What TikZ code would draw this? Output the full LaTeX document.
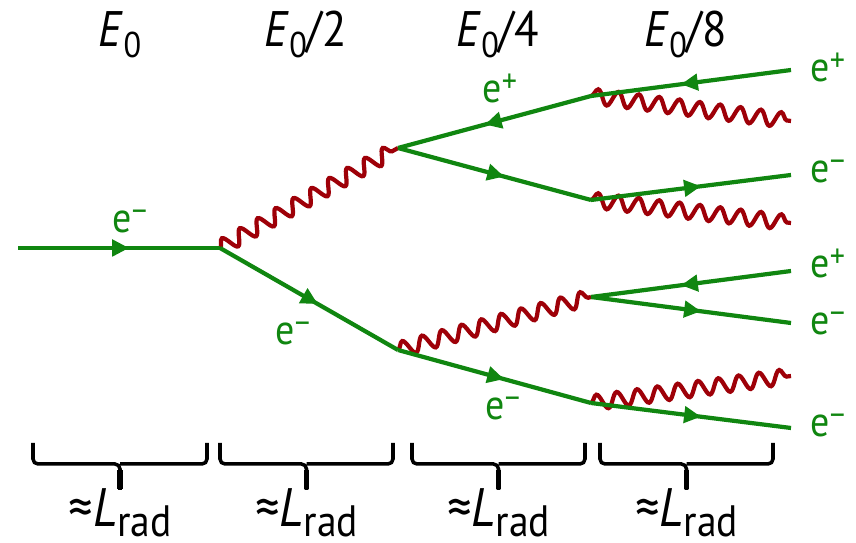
\documentclass[tikz,border=0pt]{standalone}
\usepackage{fontspec}
\setmainfont{PT Sans}[FakeStretch=0.9]
\usetikzlibrary{arrows.meta,decorations.markings,decorations.pathmorphing}

\definecolor{leptongreen}{RGB}{16,134,16}
\definecolor{photonred}{RGB}{158,0,8}

\newcommand{\Ezero}{\textit{E}\raisebox{-3.1pt}{\fontsize{10.2}{11}\selectfont 0}}
\newcommand{\Lradlabel}{≈\textit{L}\raisebox{-2.6pt}{\fontsize{12.5}{13}\selectfont rad}}
\newcommand{\charge}[1]{\raisebox{3pt}{\fontsize{9.5}{10}\selectfont #1}}

\tikzset{
  fermion/.style={leptongreen, line width=1.2pt, postaction={decorate},
    decoration={markings, mark=at position 0.55 with {\arrow{Triangle[length=4.8pt,width=4.6pt]}}}},
  gamma/.style={photonred, line width=1.2pt, decorate,
    decoration={snake, segment length=2.05mm, amplitude=0.75mm}},
  partlabel/.style={leptongreen, anchor=base west, inner sep=0pt, font=\fontsize{12}{13}\selectfont},
  energy/.style={anchor=base, inner sep=0pt, font=\fontsize{14.2}{16}\selectfont},
  lrad/.style={anchor=base, inner sep=0pt, font=\fontsize{15.4}{17}\selectfont},
  bracket/.style={line width=1pt, rounded corners=0.5mm}
}

\begin{document}
\begin{tikzpicture}[x=0.1mm,y=-0.1mm]
\useasboundingbox (0,0) rectangle (856,543);

\coordinate (in) at (18,248);
\coordinate (v1) at (220,248);
\coordinate (v2) at (398,148);
\coordinate (v3) at (398,350);
\coordinate (v4) at (591,96);
\coordinate (v5) at (591,200);
\coordinate (v6) at (591,297);
\coordinate (v7) at (591,403);
\coordinate (o1) at (791,70);
\coordinate (g1) at (791,121);
\coordinate (o2) at (791,175);
\coordinate (g2) at (791,223);
\coordinate (o3) at (791,271);
\coordinate (o4) at (791,323);
\coordinate (g3) at (791,376);
\coordinate (o5) at (791,428);

\draw[gamma] (v1) -- (v2);
\draw[gamma] (v3) -- (v6);
\draw[gamma] (v4) -- (g1);
\draw[gamma] (v5) -- (g2);
\draw[gamma] (v7) -- (g3);

\draw[fermion] (in) -- (v1);
\draw[fermion] (v1) -- (v3);
\draw[fermion] (v4) -- (v2);
\draw[fermion] (v2) -- (v5);
\draw[fermion] (v3) -- (v7);
\draw[fermion] (o1) -- (v4);
\draw[fermion] (v5) -- (o2);
\draw[fermion] (o3) -- (v6);
\draw[fermion] (v6) -- (o4);
\draw[fermion] (v7) -- (o5);

\node[partlabel] (lin) at (112,233) {e\charge{−}};
\node[partlabel] (lv1) at (275,345) {e\charge{−}};
\node[partlabel] (lv2) at (482,103) {e\charge{+}};
\node[partlabel] (lv3) at (485,420) {e\charge{−}};
\node[partlabel] (lo1) at (810,82) {e\charge{+}};
\node[partlabel] (lo2) at (810,183) {e\charge{−}};
\node[partlabel] (lo3) at (810,278) {e\charge{+}};
\node[partlabel] (lo4) at (810,335) {e\charge{−}};
\node[partlabel] (lo5) at (810,437) {e\charge{−}};

\node[energy] (en1) at (120,47) {\Ezero};
\node[energy] (en2) at (306,47) {\Ezero/2};
\node[energy] (en3) at (498,47) {\Ezero/4};
\node[energy] (en4) at (686,47) {\Ezero/8};

\foreach \a/\b [count=\n] in {33/207,220/393,412/585,600/773} {
  \pgfmathsetmacro{\m}{(\a+\b)/2}
  \draw[bracket] (\a,443) |- (\m,464) -- (\m,490);
  \draw[bracket] (\b,443) |- (\m,464);
  \draw[line width=1.6pt] (\m,470) -- (\m,489);
  \node[lrad] (len\n) at (\m,527) {\Lradlabel};
}

\end{tikzpicture}
\end{document}
